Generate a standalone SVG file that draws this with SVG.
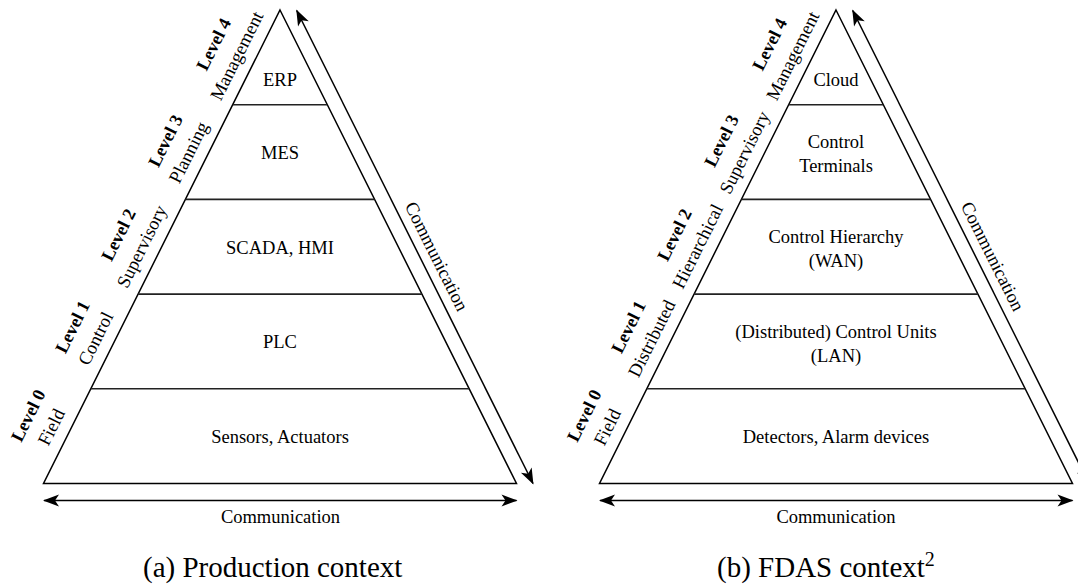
<svg xmlns="http://www.w3.org/2000/svg" width="1078" height="585" viewBox="0 0 1078 585">
<style>
  .edge { fill: none; stroke: #000; stroke-width: 1.5; stroke-linejoin: miter; }
  .sep { stroke: #222; stroke-width: 1.6; }
  .arrow { fill: none; stroke: #000; stroke-width: 1.5; marker-start: url(#stealth); marker-end: url(#stealth); }
  .node { font-family: "Liberation Serif", "Times New Roman", serif; font-size: 18.5px; fill: #000; text-anchor: middle; }
  .lvl { font-family: "Liberation Serif", "Times New Roman", serif; font-size: 18px; font-weight: bold; fill: #000; text-anchor: middle; }
  .name { font-family: "Liberation Serif", "Times New Roman", serif; font-size: 18.5px; fill: #000; text-anchor: middle; }
  .comm { font-family: "Liberation Serif", "Times New Roman", serif; font-size: 18.5px; fill: #000; text-anchor: middle; }
  .cap { font-family: "Liberation Serif", "Times New Roman", serif; font-size: 29px; fill: #000; }
</style>
<defs>
  <marker id="stealth" markerUnits="userSpaceOnUse" markerWidth="20" markerHeight="14" refX="15" refY="6" orient="auto-start-reverse" overflow="visible">
    <path d="M0,0 L16,6 L0,12 L4,6 Z" fill="#000"/>
  </marker>
</defs>

<rect width="1078" height="585" fill="#fff"/>

<!-- ===== Left pyramid (a) ===== -->
<g id="pyramid-a">
  <polygon class="edge" points="280,10 516.5,483.5 43.5,483.5"/>
  <line class="sep" x1="232.7" y1="104.7" x2="327.3" y2="104.7"/>
  <line class="sep" x1="185.4" y1="199.4" x2="374.6" y2="199.4"/>
  <line class="sep" x1="138.1" y1="294.1" x2="421.9" y2="294.1"/>
  <line class="sep" x1="90.8" y1="388.8" x2="469.2" y2="388.8"/>
</g>
<g id="a-erp"><text class="node" x="280" y="86">ERP</text></g>
<g id="a-mes"><text class="node" x="280" y="158.5">MES</text></g>
<g id="a-scada"><text class="node" x="280" y="254">SCADA, HMI</text></g>
<g id="a-plc"><text class="node" x="280" y="348">PLC</text></g>
<g id="a-sensors"><text class="node" x="280" y="443">Sensors, Actuators</text></g>

<g id="a-label-4" transform="translate(253,63.9) rotate(-63.46)">
  <text class="lvl" x="0" y="-38">Level 4</text>
  <text class="name" x="0" y="-12">Management</text>
</g>
<g id="a-label-3" transform="translate(204.8,160.5) rotate(-63.46)">
  <text class="lvl" x="0" y="-38">Level 3</text>
  <text class="name" x="0" y="-12">Planning</text>
</g>
<g id="a-label-2" transform="translate(157.9,254.5) rotate(-63.46)">
  <text class="lvl" x="0" y="-38">Level 2</text>
  <text class="name" x="0" y="-12">Supervisory</text>
</g>
<g id="a-label-1" transform="translate(111.9,346.6) rotate(-63.46)">
  <text class="lvl" x="0" y="-38">Level 1</text>
  <text class="name" x="0" y="-12">Control</text>
</g>
<g id="a-label-0" transform="translate(67.6,435.2) rotate(-63.46)">
  <text class="lvl" x="0" y="-38">Level 0</text>
  <text class="name" x="0" y="-12">Field</text>
</g>

<!-- ===== Right pyramid (b) ===== -->
<g id="pyramid-b">
  <polygon class="edge" points="836,10 1072.5,483.5 599.5,483.5"/>
  <line class="sep" x1="788.7" y1="104.7" x2="883.3" y2="104.7"/>
  <line class="sep" x1="741.4" y1="199.4" x2="930.6" y2="199.4"/>
  <line class="sep" x1="694.1" y1="294.1" x2="977.9" y2="294.1"/>
  <line class="sep" x1="646.8" y1="388.8" x2="1025.2" y2="388.8"/>
</g>
<g id="b-cloud"><text class="node" x="836" y="86">Cloud</text></g>
<g id="b-terminals">
  <text class="node" x="836" y="148">Control</text>
  <text class="node" x="836" y="172">Terminals</text>
</g>
<g id="b-hierarchy">
  <text class="node" x="836" y="243">Control Hierarchy</text>
  <text class="node" x="836" y="267">(WAN)</text>
</g>
<g id="b-units">
  <text class="node" x="836" y="338">(Distributed) Control Units</text>
  <text class="node" x="836" y="362">(LAN)</text>
</g>
<g id="b-detectors"><text class="node" x="836" y="443">Detectors, Alarm devices</text></g>

<g id="b-label-4" transform="translate(809,63.9) rotate(-63.46)">
  <text class="lvl" x="0" y="-38">Level 4</text>
  <text class="name" x="0" y="-12">Management</text>
</g>
<g id="b-label-3" transform="translate(760.8,160.5) rotate(-63.46)">
  <text class="lvl" x="0" y="-38">Level 3</text>
  <text class="name" x="0" y="-12">Supervisory</text>
</g>
<g id="b-label-2" transform="translate(713.9,254.5) rotate(-63.46)">
  <text class="lvl" x="0" y="-38">Level 2</text>
  <text class="name" x="0" y="-12">Hierarchical</text>
</g>
<g id="b-label-1" transform="translate(667.9,346.6) rotate(-63.46)">
  <text class="lvl" x="0" y="-38">Level 1</text>
  <text class="name" x="0" y="-12">Distributed</text>
</g>
<g id="b-label-0" transform="translate(623.6,435.2) rotate(-63.46)">
  <text class="lvl" x="0" y="-38">Level 0</text>
  <text class="name" x="0" y="-12">Field</text>
</g>

<!-- ===== Connectors ===== -->
<g id="connectors">
  <line class="arrow" x1="533" y1="483.5" x2="296.7" y2="10.5"/>
  <line class="arrow" x1="44" y1="500.5" x2="516.5" y2="500.5"/>
  <line class="arrow" x1="1089" y1="483.5" x2="852.7" y2="10.5"/>
  <line class="arrow" x1="600" y1="500.5" x2="1072.5" y2="500.5"/>
</g>

<!-- connector labels -->
<g id="comm-labels">
  <text class="comm" transform="translate(436.5,256.5) rotate(63.46)" x="0" y="6">Communication</text>
  <text class="comm" x="280.5" y="523">Communication</text>
  <text class="comm" transform="translate(992.5,256.5) rotate(63.46)" x="0" y="6">Communication</text>
  <text class="comm" x="836" y="523">Communication</text>
</g>

<!-- captions -->
<text class="cap" x="143" y="577">(a) Production context</text>
<text class="cap" x="717" y="577">(b) FDAS context<tspan font-size="20" dy="-11">2</tspan></text>
</svg>
